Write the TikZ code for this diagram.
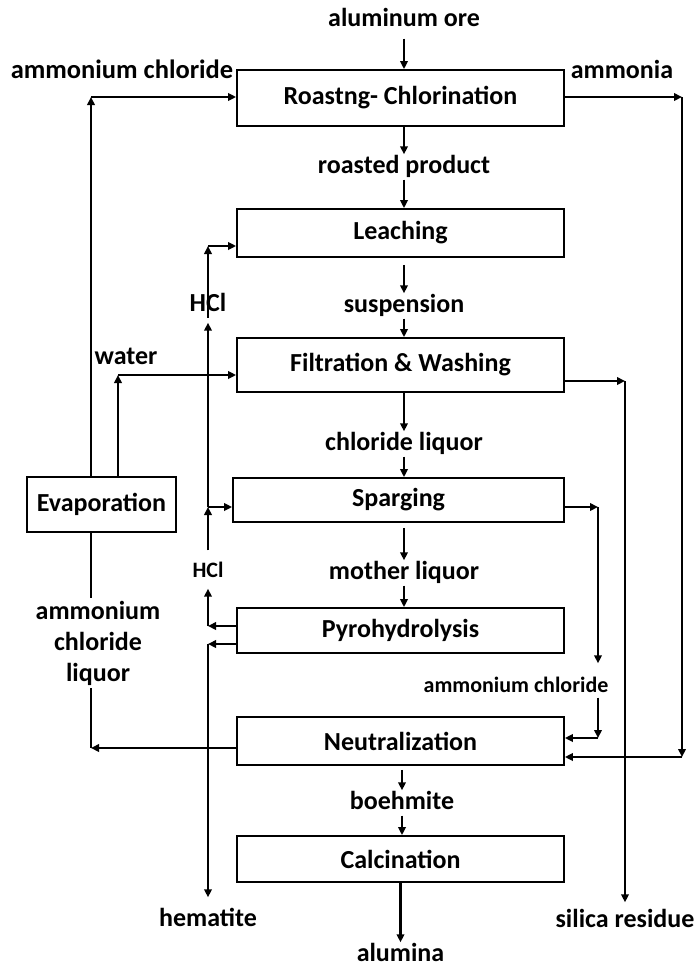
\documentclass[tikz,border=0pt]{standalone}
\usepackage{fontspec}
\setmainfont{Carlito}
\usetikzlibrary{arrows.meta}

\begin{document}
\begin{tikzpicture}[x=1pt,y=-1pt,
    stage/.style={draw=black,line width=1.8pt,minimum width=327pt,inner sep=0pt,
      font=\fontsize{26}{31}\selectfont\bfseries},
    stream/.style={inner sep=1pt,text height=18pt,text depth=5pt,
      font=\fontsize{26}{31}\selectfont\bfseries},
    smallstream/.style={inner sep=1pt,text height=15pt,text depth=4pt,
      font=\fontsize{22}{26}\selectfont\bfseries},
    flow/.style={line width=2.8pt,-{Triangle[length=8pt,width=7.5pt]}},
    pipe/.style={line width=2.8pt}]
  \useasboundingbox (0,0) rectangle (694,967);

  \node[stage,minimum height=56pt] (roast) at (400.5,98) {Roastng- Chlorination};
  \node[stage,minimum height=48pt] (leach) at (400.5,233) {Leaching};
  \node[stage,minimum height=54pt] (filter) at (400.5,365) {Filtration \& Washing};
  \node[stage,minimum width=331pt,minimum height=44pt] (sparge) at (398.5,500) {Sparging};
  \node[stage,minimum height=45pt] (pyro) at (400.5,630.5) {Pyrohydrolysis};
  \node[stage,minimum height=48pt] (neutral) at (400.5,741) {Neutralization};
  \node[stage,minimum height=46pt] (calc) at (400.5,859) {Calcination};
  \node[stage,minimum width=149pt,minimum height=55pt] (evap) at (101.5,504.5) {Evaporation};

  \node[stream] (ore) at (404,20) {aluminum ore};
  \node[stream] (roasted) at (404,167) {roasted product};
  \node[stream] (susp) at (404,306) {suspension};
  \node[stream] (chlor) at (404,444) {chloride liquor};
  \node[stream] (mother) at (404,573) {mother liquor};
  \node[stream] (boeh) at (402,803) {boehmite};
  \node[stream] (alumina) at (400.5,955) {alumina};

  \node[stream,font=\fontsize{26.5}{31}\selectfont\bfseries] (nhcl) at (122,72) {ammonium chloride};
  \node[stream] (ammonia) at (622,72) {ammonia};
  \node[stream] (water) at (126,358) {water};
  \node[stream] (hcltop) at (208,305) {HCl};
  \node[smallstream] (hclbot) at (208,572) {HCl};
  \node[align=center,inner sep=3pt,font=\fontsize{26}{31}\selectfont\bfseries] (liquor)
    at (98,643) {ammonium\\chloride\\liquor};
  \node[smallstream] (nhcl2) at (516,687) {ammonium chloride};
  \node[stream] (hematite) at (208,920) {hematite};
  \node[stream] (silica) at (625,921) {silica residue};

  \coordinate (nhclTop) at (91,97);
  \coordinate (nhclBot) at (91,748);
  \coordinate (waterTop) at (118,375);
  \coordinate (hclLeach) at (208,246);
  \coordinate (hclSparge) at (208,507);
  \coordinate (hclPyro) at (208,626);
  \coordinate (hemPyro) at (208,644);
  \coordinate (ammTop) at (682,97);
  \coordinate (ammBot) at (682,757);
  \coordinate (silTop) at (625,381);
  \coordinate (spTop) at (598,507);
  \coordinate (spBot) at (598,738);

  \draw[flow,shorten <=6pt] (ore.south) -- (ore.south |- roast.north);
  \draw[flow] (roasted.north |- roast.south) -- (roasted.north);
  \draw[flow] (roasted.south) -- (roasted.south |- leach.north);
  \draw[flow,shorten <=7pt] (susp.north |- leach.south) -- (susp.north);
  \draw[flow] (susp.south) -- (susp.south |- filter.north);
  \draw[flow] (chlor.north |- filter.south) -- (chlor.north);
  \draw[flow] (chlor.south) -- (chlor.south |- sparge.north);
  \draw[flow,shorten <=5pt] (mother.north |- sparge.south) -- (mother.north);
  \draw[flow] (mother.south) -- (mother.south |- pyro.north);
  \draw[flow,shorten <=4pt] (boeh.north |- neutral.south) -- (boeh.north);
  \draw[flow] (boeh.south) -- (boeh.south |- calc.north);
  \draw[flow] (calc.south) -- (alumina.north);

  \draw[flow] (evap.north -| nhclTop) -- (nhclTop);
  \draw[flow] (nhclTop) -- (nhclTop -| roast.west);
  \draw[flow] (evap.north -| waterTop) -- (waterTop);
  \draw[flow] (waterTop) -- (waterTop -| filter.west);
  \draw[pipe] (evap.south -| nhclTop) -- (nhclTop |- liquor.north);
  \draw[pipe] (nhclTop |- liquor.south) -- (nhclBot);
  \draw[flow] (nhclBot -| neutral.west) -- (nhclBot);

  \draw[flow] (hclLeach |- hcltop.south) -- (hclLeach);
  \draw[flow] (hclLeach) -- (hclLeach -| leach.west);
  \draw[flow,shorten >=5pt] (hclSparge) -- (hcltop.south);
  \draw[flow] ([yshift=11pt]hclbot.north) -- (hclSparge);
  \draw[flow] (hclSparge) -- (hclSparge -| sparge.west);
  \draw[flow] (hclPyro -| pyro.west) -- (hclPyro);
  \draw[flow,shorten >=6pt] (hclPyro) -- (hclbot.south);
  \draw[flow] (hemPyro -| pyro.west) -- (hemPyro);
  \draw[flow,shorten >=10pt] (hemPyro) -- (hematite.north);

  \draw[flow] (ammTop -| roast.east) -- (ammTop);
  \draw[flow] (ammTop) -- (ammBot);
  \draw[flow] (ammBot) -- (ammBot -| neutral.east);
  \draw[flow] (silTop -| filter.east) -- (silTop);
  \draw[flow,shorten >=6pt] (silTop) -- (silica.north);
  \draw[flow] (spTop -| sparge.east) -- (spTop);
  \draw[flow,shorten >=13pt] (spTop) -- (spTop |- nhcl2.north);
  \draw[flow] (spTop |- nhcl2.south) -- (spBot);
  \draw[flow] (spBot) -- (spBot -| neutral.east);
\end{tikzpicture}
\end{document}
